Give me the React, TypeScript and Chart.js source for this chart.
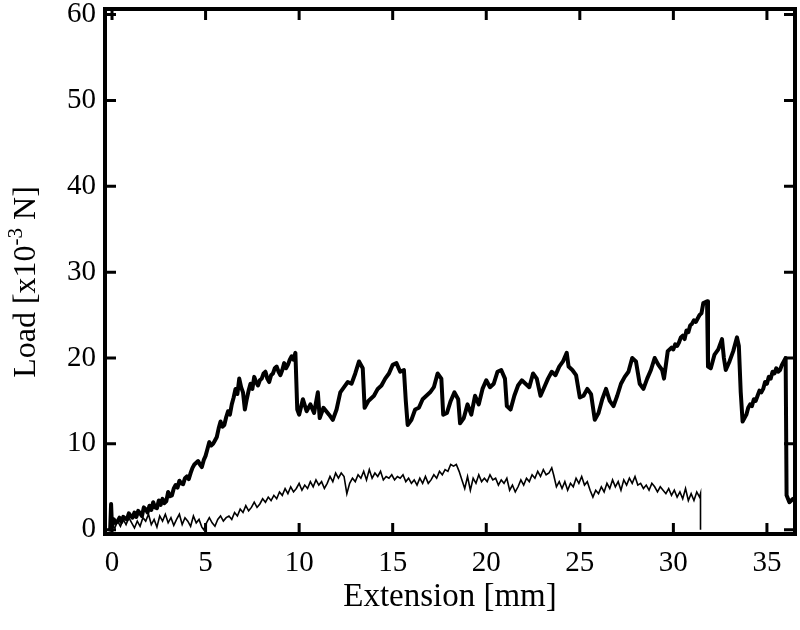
import React, { useEffect, useRef } from "react";
import { Chart, registerables } from "chart.js";

Chart.register(...registerables);

const X_TICKS = [0, 5, 10, 15, 20, 25, 30, 35];
const Y_TICKS = [0, 10, 20, 30, 40, 50, 60];
const X_TITLE = "Extension [mm]";
const Y_TITLE_MAIN = "Load [x10";
const Y_TITLE_SUP = "-3";
const Y_TITLE_END = " N]";

// Thick curve: [extension mm, load x1e-3 N]
const thickX = [
  -0.1, -0.05, 0, 0.1, 0.2, 0.3, 0.4, 0.5, 0.6, 0.7, 0.8, 0.9, 1.0, 1.1, 1.2, 1.3, 1.4, 1.5, 1.6, 1.7,
  1.8, 1.9, 2.0, 2.1, 2.2, 2.3, 2.4, 2.5, 2.6, 2.7, 2.8, 2.9, 3.0, 3.1, 3.2, 3.3, 3.4, 3.5, 3.6, 3.7,
  3.8, 3.9, 4.0, 4.1, 4.2, 4.3, 4.4, 4.5, 4.6, 4.7, 4.8, 4.9, 5.0, 5.1, 5.2, 5.3, 5.4, 5.5, 5.6, 5.7,
  5.8, 5.9, 6.0, 6.1, 6.2, 6.3, 6.4, 6.5, 6.6, 6.7, 6.8, 6.9, 7.0, 7.1, 7.2, 7.3, 7.4, 7.5, 7.6, 7.7,
  7.8, 7.9, 8.0, 8.1, 8.2, 8.3, 8.4, 8.5, 8.6, 8.7, 8.8, 8.9, 9.0, 9.1, 9.2, 9.3, 9.4, 9.5, 9.6, 9.7,
  9.8, 9.9, 10.0, 10.2, 10.4, 10.6, 10.8, 11.0,
  11.1, 11.3, 11.6, 11.8, 12.0, 12.2, 12.4, 12.6, 12.8, 13.0, 13.2, 13.4, 13.5, 13.7, 14.0, 14.2, 14.4, 14.6, 14.8, 15.0,
  15.2, 15.4, 15.6, 15.7, 15.8, 16.0, 16.2, 16.4, 16.6, 16.8, 17.0, 17.2, 17.4, 17.6, 17.7, 17.9, 18.1, 18.3, 18.5, 18.6,
  18.8, 19.0, 19.2, 19.4, 19.6, 19.8, 20.0, 20.2, 20.4, 20.6, 20.8, 21.0, 21.1, 21.3, 21.5, 21.7, 21.9, 22.1, 22.3, 22.5,
  22.7, 22.9, 23.1, 23.3, 23.5, 23.7, 23.9, 24.1, 24.3, 24.4, 24.6, 24.8, 25.0, 25.2, 25.4, 25.6, 25.8, 26.0, 26.2, 26.4,
  26.6, 26.8, 27.0, 27.2, 27.4, 27.6, 27.8, 28.0, 28.2, 28.4, 28.6, 28.8, 29.0, 29.2, 29.4, 29.5, 29.7, 29.9, 30.0, 30.1,
  30.2, 30.3, 30.4, 30.5, 30.6, 30.7, 30.8, 30.9, 31.0, 31.1, 31.2, 31.3, 31.4, 31.5, 31.6, 31.8, 31.85, 32.0, 32.2, 32.4,
  32.6, 32.7, 32.8, 33.0, 33.2, 33.4, 33.5, 33.6, 33.7, 33.9, 34.0, 34.1, 34.2, 34.3, 34.4, 34.5, 34.6, 34.7, 34.8, 34.9,
  35.0, 35.1, 35.2, 35.3, 35.4, 35.5, 35.6, 35.7, 35.8, 35.9, 36.0, 36.05, 36.2, 36.4,
];
const thickY = [
  0, 3.0, 0.3, 1.2, 0.8, 1.0, 1.4, 0.9, 1.5, 1.3, 1.2, 1.9, 1.6, 1.4, 2.0, 1.5, 2.2, 1.9, 1.6, 2.6,
  2.4, 2.0, 2.8, 2.3, 3.2, 2.6, 2.5, 3.4, 2.9, 3.6, 3.1, 3.3, 4.4, 3.9, 4.0, 4.8, 5.2, 4.9, 5.7, 5.4,
  5.3, 6.0, 6.2, 5.9, 6.6, 7.2, 7.6, 7.8, 8.0, 7.6, 7.3, 8.1, 8.6, 9.4, 10.2, 9.8, 10.0, 10.4, 10.8, 11.8,
  12.6, 12.0, 12.2, 13.1, 13.8, 13.4, 14.6, 15.4, 16.4, 15.8, 17.6, 16.6, 16.0, 14.0, 15.2, 16.2, 17.0, 16.4, 17.8, 17.2,
  16.8, 17.4, 17.6, 18.2, 18.4, 17.6, 17.2, 18.0, 18.2, 18.8, 19.0, 18.4, 18.0, 18.6, 19.4, 18.8, 19.2, 19.8, 20.2, 19.8,
  20.6, 14.0, 13.4, 15.2, 13.8, 14.6, 13.6, 16.0,
  13.0, 14.2, 13.4, 12.8, 14.0, 16.0, 16.6, 17.2, 17.0, 18.2, 19.6, 18.8, 14.2, 15.0, 15.6, 16.4, 16.8, 17.6, 18.2, 19.2,
  19.4, 18.4, 18.6, 15.0, 12.2, 12.8, 14.0, 14.2, 15.2, 15.6, 16.0, 16.6, 18.2, 17.6, 13.4, 13.6, 15.0, 16.0, 15.2, 12.4,
  13.0, 14.6, 13.4, 15.6, 14.6, 16.4, 17.4, 16.6, 17.0, 18.4, 18.6, 17.6, 14.4, 14.0, 15.6, 16.8, 17.4, 17.0, 16.6, 18.2,
  17.6, 15.6, 16.6, 17.6, 18.4, 18.0, 19.0, 19.6, 20.6, 19.0, 18.6, 18.0, 15.4, 15.6, 16.4, 15.8, 12.8, 13.6, 15.2, 16.4,
  15.0, 14.4, 15.6, 17.0, 17.8, 18.4, 20.0, 19.6, 17.0, 16.4, 17.6, 18.6, 20.0, 19.2, 18.6, 17.6, 20.8, 21.2, 21.0, 21.6,
  21.4, 21.8, 22.4, 22.6, 22.2, 23.2, 23.0, 23.8, 24.0, 24.4, 24.2, 24.6, 25.0, 25.2, 26.4, 26.6, 19.0, 18.8, 20.4, 21.0,
  22.2, 20.0, 18.6, 19.6, 20.8, 22.4, 21.4, 16.0, 12.6, 13.4, 14.2, 14.6, 14.4, 15.2, 15.0, 15.6, 16.2, 16.0, 16.4, 17.2,
  17.0, 17.8, 17.6, 18.4, 18.2, 18.8, 18.4, 18.6, 19.2, 19.6, 20.0, 4.0, 3.2, 3.6,
];

// Thin curve
const thinX = [
  0, 0.15, 0.3, 0.45, 0.6, 0.75, 0.9, 1.05, 1.2, 1.35, 1.5, 1.65, 1.8, 1.95, 2.1, 2.25, 2.4, 2.55, 2.7, 2.85,
  3.0, 3.15, 3.3, 3.45, 3.6, 3.75, 3.9, 4.05, 4.2, 4.35, 4.5, 4.65, 4.8, 4.9, 5.05, 5.2, 5.35, 5.5, 5.65, 5.8,
  5.95, 6.1, 6.25, 6.4, 6.55, 6.7, 6.85, 7.0, 7.15, 7.3, 7.45, 7.6, 7.75, 7.9, 8.05, 8.2, 8.35, 8.5, 8.65, 8.8,
  8.95, 9.1, 9.25, 9.4, 9.55, 9.7, 9.85, 10.0, 10.15, 10.3, 10.45, 10.6, 10.75, 10.9, 11.05, 11.2, 11.35, 11.5, 11.65, 11.8,
  11.95, 12.1, 12.25, 12.4, 12.55, 12.7, 12.85, 13.0, 13.15, 13.3, 13.45, 13.6, 13.75, 13.9, 14.05, 14.2, 14.35, 14.5, 14.65, 14.8,
  14.95, 15.1, 15.25, 15.4, 15.55, 15.7, 15.85, 16.0, 16.15, 16.3, 16.45, 16.6, 16.75, 16.9, 17.05, 17.2, 17.35, 17.5, 17.65, 17.8,
  17.95, 18.1, 18.25, 18.4, 18.55, 18.7, 18.85, 19.0, 19.15, 19.3, 19.45, 19.6, 19.75, 19.9, 20.05, 20.2, 20.35, 20.5, 20.65, 20.8,
  20.95, 21.1, 21.25, 21.4, 21.55, 21.7, 21.85, 22.0, 22.15, 22.3, 22.45, 22.6, 22.75, 22.9, 23.05, 23.2, 23.35, 23.5, 23.6, 23.75,
  23.9, 24.05, 24.2, 24.35, 24.5, 24.65, 24.8, 24.95, 25.1, 25.25, 25.4, 25.55, 25.7, 25.85, 26.0, 26.15, 26.3, 26.45, 26.6, 26.75,
  26.9, 27.05, 27.2, 27.35, 27.5, 27.65, 27.8, 27.95, 28.1, 28.25, 28.4, 28.55, 28.7, 28.85, 29.0, 29.15, 29.3, 29.45, 29.6, 29.75,
  29.9, 30.05, 30.2, 30.35, 30.5, 30.65, 30.8, 30.95, 31.1, 31.25, 31.4, 31.45, 31.45,
];
const thinY = [
  0.5, 0.2, 1.0, 0.4, 1.2, 0.6, 1.4, 0.8, 0.2, 1.0, 0.4, 1.4, 1.0, 1.8, 0.6, 1.2, 0.3, 1.6, 1.0, 1.8,
  0.8, 1.4, 0.5, 1.2, 1.8, 0.6, 1.4, 1.0, 0.4, 1.6, 0.8, 1.2, 0.3, 0.0, 0.8, 1.4, 0.8, 0.4, 1.2, 1.6,
  1.0, 1.4, 1.6, 1.2, 2.0, 1.6, 2.4, 2.0, 2.8, 2.2, 2.6, 3.2, 2.6, 3.0, 3.6, 3.2, 3.8, 3.4, 4.0, 3.6,
  4.4, 4.0, 4.8, 4.2, 5.0, 4.4, 4.8, 5.4, 4.6, 5.2, 4.8, 5.6, 5.0, 5.8, 5.2, 5.6, 4.8, 5.4, 6.2, 5.6,
  6.6, 6.0, 6.6, 6.2, 4.2, 5.4, 6.0, 5.6, 6.4, 6.0, 6.8, 5.8, 7.0, 6.0, 6.6, 6.2, 6.8, 5.8, 6.2, 6.0,
  6.4, 5.8, 6.2, 6.0, 6.4, 5.6, 6.0, 5.4, 5.8, 5.2, 6.0, 5.4, 6.2, 5.4, 5.8, 6.4, 6.0, 6.8, 6.4, 7.0,
  6.8, 7.6, 7.4, 7.6, 6.8, 5.8, 4.8, 6.2, 4.6, 6.0, 5.4, 6.4, 5.6, 6.0, 5.6, 6.4, 5.8, 6.0, 5.2, 5.8,
  5.4, 6.0, 4.6, 5.2, 4.4, 5.0, 5.8, 5.2, 6.0, 5.6, 6.4, 6.0, 6.8, 6.2, 7.0, 6.4, 6.6, 7.2, 6.4, 5.0,
  5.6, 4.8, 5.6, 4.6, 5.4, 5.0, 6.0, 5.4, 6.2, 5.2, 5.6, 4.6, 3.8, 4.6, 4.2, 5.0, 4.4, 5.4, 4.8, 5.8,
  5.0, 5.6, 4.6, 5.8, 5.2, 6.0, 5.4, 6.2, 5.2, 5.4, 4.8, 5.2, 4.6, 5.4, 5.0, 4.4, 5.0, 4.6, 4.2, 4.8,
  4.0, 4.6, 3.8, 4.4, 3.6, 4.8, 3.4, 4.2, 3.4, 4.4, 3.8, 4.2, 0.0,
];

const X_MIN = -0.375;
const X_MAX = 36.5;
const Y_MIN = -0.5;
const Y_MAX = 60.65;

const framePlugin = {
  id: "frame",
  afterDraw(chart: any) {
    const { ctx, chartArea } = chart;
    const { left, right, top, bottom } = chartArea;
    const xs = chart.scales.x;
    const ys = chart.scales.y;
    ctx.save();
    ctx.strokeStyle = "#000";
    ctx.lineCap = "butt";
    ctx.lineWidth = 3;
    const tl = 11;
    ctx.beginPath();
    for (const v of X_TICKS) {
      const px = xs.getPixelForValue(v);
      ctx.moveTo(px, bottom);
      ctx.lineTo(px, bottom - tl);
      ctx.moveTo(px, top);
      ctx.lineTo(px, top + tl);
    }
    for (const v of Y_TICKS) {
      const py = ys.getPixelForValue(v);
      ctx.moveTo(left, py);
      ctx.lineTo(left + tl, py);
      ctx.moveTo(right, py);
      ctx.lineTo(right - tl, py);
    }
    ctx.stroke();
    ctx.lineWidth = 4;
    ctx.strokeRect(left, top, right - left, bottom - top);
    ctx.fillStyle = "#000";
    const mainFont = "32px 'Liberation Serif', 'Times New Roman', serif";
    const supFont = "21px 'Liberation Serif', 'Times New Roman', serif";
    ctx.font = mainFont;
    const w1 = ctx.measureText(Y_TITLE_MAIN).width;
    const w3 = ctx.measureText(Y_TITLE_END).width;
    ctx.font = supFont;
    const w2 = ctx.measureText(Y_TITLE_SUP).width;
    const total = w1 + w2 + w3;
    ctx.translate(35, 282);
    ctx.rotate(-Math.PI / 2);
    ctx.textBaseline = "alphabetic";
    ctx.textAlign = "left";
    let cx = -total / 2;
    ctx.font = mainFont;
    ctx.fillText(Y_TITLE_MAIN, cx, 0);
    cx += w1;
    ctx.font = supFont;
    ctx.fillText(Y_TITLE_SUP, cx, -13);
    cx += w2;
    ctx.font = mainFont;
    ctx.fillText(Y_TITLE_END, cx, 0);
    ctx.restore();
  },
};

export default function App() {
  const canvasRef = useRef<HTMLCanvasElement>(null);

  useEffect(() => {
    document.body.style.margin = "0";
    const canvas = canvasRef.current;
    if (!canvas) return;
    const thick = thickX.map((x, i) => ({ x, y: thickY[i] }));
    const thin = thinX.map((x, i) => ({ x, y: thinY[i] }));
    const tickFont = { family: "'Liberation Serif', 'Times New Roman', serif", size: 29 };
    const chart = new Chart(canvas, {
      type: "line",
      data: {
        datasets: [
          {
            data: thick,
            borderColor: "#000",
            borderWidth: 4,
            pointRadius: 0,
            tension: 0,
            borderJoinStyle: "round",
            borderCapStyle: "round",
            fill: false,
          },
          {
            data: thin,
            borderColor: "#000",
            borderWidth: 1.6,
            pointRadius: 0,
            tension: 0,
            borderJoinStyle: "miter",
            fill: false,
          },
        ],
      },
      options: {
        responsive: false,
        animation: false,
        devicePixelRatio: 1,
        layout: { padding: { top: 9, right: 5, left: 0, bottom: 0 } },
        plugins: { legend: { display: false }, tooltip: { enabled: false } },
        scales: {
          x: {
            type: "linear",
            min: X_MIN,
            max: X_MAX,
            afterBuildTicks: (s: any) => {
              s.ticks = X_TICKS.map((v) => ({ value: v }));
            },
            afterFit: (s: any) => {
              s.height = 96;
              s.paddingLeft = 0;
              s.paddingRight = 0;
            },
            grid: { display: false, drawTicks: false },
            border: { display: false },
            ticks: {
              color: "#000",
              font: tickFont,
              padding: 12,
              maxRotation: 0,
              autoSkip: false,
            },
            title: {
              display: true,
              text: X_TITLE,
              color: "#000",
              font: { family: "'Liberation Serif', 'Times New Roman', serif", size: 33 },
              padding: { top: 4, bottom: 13 },
            },
          },
          y: {
            type: "linear",
            min: Y_MIN,
            max: Y_MAX,
            afterBuildTicks: (s: any) => {
              s.ticks = Y_TICKS.map((v) => ({ value: v }));
            },
            afterFit: (s: any) => {
              s.width = 105;
              s.paddingTop = 0;
              s.paddingBottom = 0;
            },
            grid: { display: false, drawTicks: false },
            border: { display: false },
            ticks: {
              color: "#000",
              font: tickFont,
              padding: 9,
              autoSkip: false,
            },
          },
        },
      },
      plugins: [framePlugin],
    } as any);
    return () => chart.destroy();
  }, []);

  return (
    <div style={{ width: 800, height: 630, background: "#fff" }}>
      <canvas ref={canvasRef} width={800} height={630} style={{ display: "block" }} />
    </div>
  );
}
